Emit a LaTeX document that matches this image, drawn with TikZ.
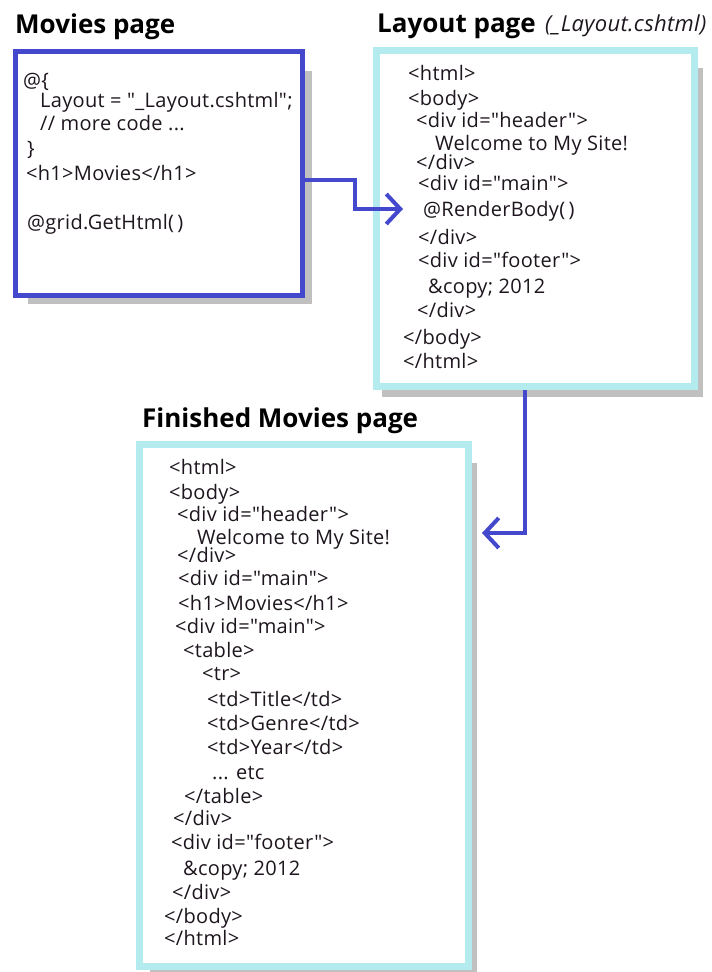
\documentclass[tikz,border=0pt]{standalone}
\usepackage{fontspec}
\setmainfont{Open Sans}
\newfontfamily\codefont{Open Sans}[LetterSpace=1.5]
\usetikzlibrary{arrows.meta,calc}
\definecolor{arrowblue}{RGB}{68,72,204}
\definecolor{boxcyan}{RGB}{180,235,238}
\definecolor{shadowgray}{RGB}{192,192,192}
\definecolor{codeink}{RGB}{30,22,30}
\newcommand\qq{\char34\relax}
\tikzset{
  codeline/.style={anchor=west,inner sep=0pt,text height=18pt,text depth=4pt,font=\codefont\fontsize{20}{23}\selectfont,text=codeink},
  titletext/.style={anchor=base west,inner sep=0pt,font=\fontsize{26}{30}\selectfont\bfseries,text=black},
  subtitle/.style={anchor=base west,inner sep=0pt,font=\codefont\fontsize{22}{25}\selectfont\itshape,text=codeink},
  pagebox/.style={draw,fill=white,line width=#1,inner sep=0pt},
  conn/.style={draw=arrowblue,line width=4pt,line join=miter,-{Straight Barb[length=14pt,width=30pt]}}
}
\begin{document}
\begin{tikzpicture}[x=1pt,y=-1pt]
\useasboundingbox[fill=white] (0,0) rectangle (712,972);
% shadows
\fill[shadowgray] (28,71) rectangle (312,304);
\fill[shadowgray] (382,68) rectangle (703,397);
\fill[shadowgray] (150,463) rectangle (477,972);
% boxes
\node[pagebox=5pt,draw=arrowblue,minimum width=287pt,minimum height=244pt] (movies) at (159,173.5) {};
\node[pagebox=7pt,draw=boxcyan,minimum width=318pt,minimum height=336pt] (layout) at (535.5,218.5) {};
\node[pagebox=7pt,draw=boxcyan,minimum width=329pt,minimum height=522pt] (finished) at (304,705.5) {};
% titles
\node[titletext] (t1) at (15,33) {Movies page};
\node[titletext] (t2) at (377,32) {Layout page};
\node[subtitle] (t2b) at (545,31) {(\_Layout.cshtml)};
\node[titletext] (t3) at (142,427) {Finished Movies page};
% movies page code
\node[codeline] (m1) at (23,80) {@\{};
\node[codeline] (m2) at (40,100) {Layout = \qq\_Layout.cshtml\qq;};
\node[codeline] (m3) at (40,123) {// more code ...};
\node[codeline] (m4) at (27,148) {\}};
\node[codeline] (m5) at (26,173) {<h1>Movies</h1>};
\node[codeline] (m6) at (27,222) {@grid.GetHtml(\,)};
% layout page code
\node[codeline] (l1) at (408,73) {<html>};
\node[codeline] (l2) at (408,98) {<body>};
\node[codeline] (l3) at (416,120) {<div id=\qq header\qq>};
\node[codeline] (l4) at (435,143) {Welcome to My Site!};
\node[codeline] (l5) at (416,162) {</div>};
\node[codeline] (l6) at (418,183) {<div id=\qq main\qq>};
\node[codeline] (render) at (423,209) {@RenderBody(\,)};
\node[codeline] (l8) at (418,237) {</div>};
\node[codeline] (l9) at (418,260) {<div id=\qq footer\qq>};
\node[codeline] (l10) at (428,286) {\&copy; 2012};
\node[codeline] (l11) at (417,310) {</div>};
\node[codeline] (l12) at (403,337) {</body>};
\node[codeline] (l13) at (403,361) {</html>};
% finished page code
\node[codeline] (f1) at (169,467) {<html>};
\node[codeline] (f2) at (169,492) {<body>};
\node[codeline] (f3) at (177,514) {<div id=\qq header\qq>};
\node[codeline] (f4) at (197,537) {Welcome to My Site!};
\node[codeline] (f5) at (177,555) {</div>};
\node[codeline] (f6) at (178,578) {<div id=\qq main\qq>};
\node[codeline] (f7) at (178,603) {<h1>Movies</h1>};
\node[codeline] (f8) at (175,626) {<div id=\qq main\qq>};
\node[codeline] (f9) at (183,650) {<table>};
\node[codeline] (f10) at (202,673) {<tr>};
\node[codeline] (f11) at (207,699) {<td>Title</td>};
\node[codeline] (f12) at (207,723) {<td>Genre</td>};
\node[codeline] (f13) at (207,747) {<td>Year</td>};
\node[codeline] (f14) at (212,772) {... etc};
\node[codeline] (f15) at (184,796) {</table>};
\node[codeline] (f16) at (173,818) {</div>};
\node[codeline] (f17) at (171,842) {<div id=\qq footer\qq>};
\node[codeline] (f18) at (183,868) {\&copy; 2012};
\node[codeline] (f19) at (172,892) {</div>};
\node[codeline] (f20) at (164,916) {</body>};
\node[codeline] (f21) at (164,938) {</html>};
% connectors
\coordinate (a1) at (355,180);
\draw[conn] (movies.east |- a1) -- (a1) |- ([xshift=-20pt]render.west);
\coordinate (a2) at (525,533);
\draw[conn] (layout.south -| a2) -- (a2) -- ($(finished.east |- a2)+(10,0)$);
\end{tikzpicture}
\end{document}
